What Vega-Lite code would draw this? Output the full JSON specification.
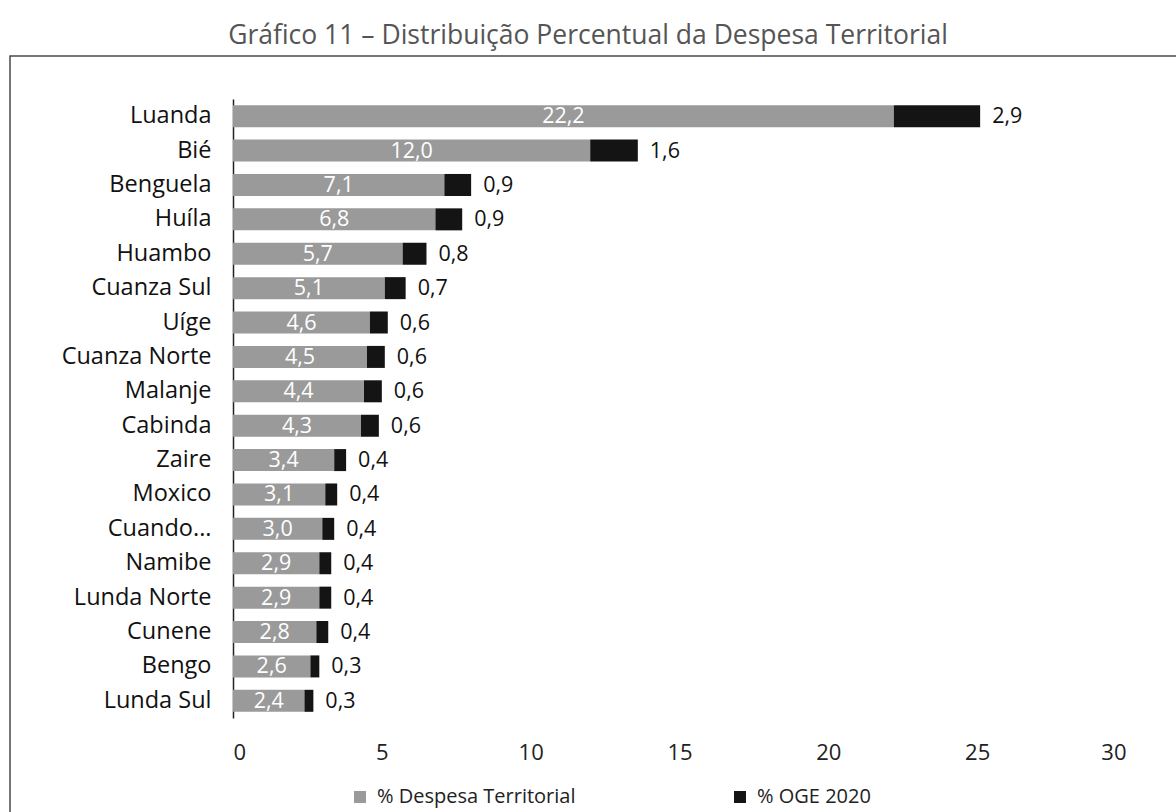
{
  "$schema": "https://vega.github.io/schema/vega-lite/v6.json",
  "autosize": {"type": "none"},
  "width": 1168,
  "height": 758,
  "padding": {"left": 10, "top": 56, "right": -2, "bottom": -2},
  "background": "white",
  "title": {
    "text": "Gráfico 11 – Distribuição Percentual da Despesa Territorial",
    "font": "Open Sans",
    "fontSize": 26.5,
    "fontWeight": "normal",
    "color": "#555555",
    "anchor": "middle",
    "dx": -6,
    "offset": 7
  },
  "data": {
    "values": [
      {"provincia": "Luanda", "serie": "% Despesa Territorial", "valor": 22.2},
      {"provincia": "Luanda", "serie": "% OGE 2020", "valor": 2.9},
      {"provincia": "Bié", "serie": "% Despesa Territorial", "valor": 12.0},
      {"provincia": "Bié", "serie": "% OGE 2020", "valor": 1.6},
      {"provincia": "Benguela", "serie": "% Despesa Territorial", "valor": 7.1},
      {"provincia": "Benguela", "serie": "% OGE 2020", "valor": 0.9},
      {"provincia": "Huíla", "serie": "% Despesa Territorial", "valor": 6.8},
      {"provincia": "Huíla", "serie": "% OGE 2020", "valor": 0.9},
      {"provincia": "Huambo", "serie": "% Despesa Territorial", "valor": 5.7},
      {"provincia": "Huambo", "serie": "% OGE 2020", "valor": 0.8},
      {"provincia": "Cuanza Sul", "serie": "% Despesa Territorial", "valor": 5.1},
      {"provincia": "Cuanza Sul", "serie": "% OGE 2020", "valor": 0.7},
      {"provincia": "Uíge", "serie": "% Despesa Territorial", "valor": 4.6},
      {"provincia": "Uíge", "serie": "% OGE 2020", "valor": 0.6},
      {"provincia": "Cuanza Norte", "serie": "% Despesa Territorial", "valor": 4.5},
      {"provincia": "Cuanza Norte", "serie": "% OGE 2020", "valor": 0.6},
      {"provincia": "Malanje", "serie": "% Despesa Territorial", "valor": 4.4},
      {"provincia": "Malanje", "serie": "% OGE 2020", "valor": 0.6},
      {"provincia": "Cabinda", "serie": "% Despesa Territorial", "valor": 4.3},
      {"provincia": "Cabinda", "serie": "% OGE 2020", "valor": 0.6},
      {"provincia": "Zaire", "serie": "% Despesa Territorial", "valor": 3.4},
      {"provincia": "Zaire", "serie": "% OGE 2020", "valor": 0.4},
      {"provincia": "Moxico", "serie": "% Despesa Territorial", "valor": 3.1},
      {"provincia": "Moxico", "serie": "% OGE 2020", "valor": 0.4},
      {"provincia": "Cuando...", "serie": "% Despesa Territorial", "valor": 3.0},
      {"provincia": "Cuando...", "serie": "% OGE 2020", "valor": 0.4},
      {"provincia": "Namibe", "serie": "% Despesa Territorial", "valor": 2.9},
      {"provincia": "Namibe", "serie": "% OGE 2020", "valor": 0.4},
      {"provincia": "Lunda Norte", "serie": "% Despesa Territorial", "valor": 2.9},
      {"provincia": "Lunda Norte", "serie": "% OGE 2020", "valor": 0.4},
      {"provincia": "Cunene", "serie": "% Despesa Territorial", "valor": 2.8},
      {"provincia": "Cunene", "serie": "% OGE 2020", "valor": 0.4},
      {"provincia": "Bengo", "serie": "% Despesa Territorial", "valor": 2.6},
      {"provincia": "Bengo", "serie": "% OGE 2020", "valor": 0.3},
      {"provincia": "Lunda Sul", "serie": "% Despesa Territorial", "valor": 2.4},
      {"provincia": "Lunda Sul", "serie": "% OGE 2020", "valor": 0.3}
    ]
  },
  "encoding": {
    "y": {
      "field": "provincia",
      "type": "nominal",
      "sort": ["Luanda", "Bié", "Benguela", "Huíla", "Huambo", "Cuanza Sul", "Uíge", "Cuanza Norte", "Malanje", "Cabinda", "Zaire", "Moxico", "Cuando...", "Namibe", "Lunda Norte", "Cunene", "Bengo", "Lunda Sul"],
      "scale": {"range": [43, 662], "paddingInner": 0.36, "paddingOuter": 0.18},
      "axis": {
        "title": null,
        "orient": "left",
        "offset": -223,
        "domain": true,
        "domainColor": "#222222",
        "domainWidth": 1.5,
        "ticks": false,
        "grid": false,
        "labelFont": "Open Sans",
        "labelFontSize": 23.5,
        "labelColor": "#111111",
        "labelPadding": 22,
        "labelLimit": 300
      }
    },
    "x": {
      "field": "valor",
      "type": "quantitative",
      "stack": "zero",
      "scale": {"domain": [0, 30], "range": [223, 1116], "nice": false, "zero": true},
      "axis": {
        "title": null,
        "orient": "bottom",
        "offset": -96,
        "values": [0, 5, 10, 15, 20, 25, 30],
        "format": "d",
        "domain": false,
        "ticks": false,
        "tickSize": 0,
        "grid": false,
        "labelFont": "Open Sans",
        "labelFontSize": 22,
        "labelColor": "#222222",
        "labelPadding": 24
      }
    },
    "order": {"field": "serie", "type": "nominal", "sort": "ascending"}
  },
  "layer": [
    {
      "mark": {"type": "bar"},
      "encoding": {
        "color": {
          "field": "serie",
          "type": "nominal",
          "scale": {"domain": ["% Despesa Territorial", "% OGE 2020"], "range": ["#9a9a9a", "#141414"]},
          "legend": {
            "title": null,
            "orient": "none",
            "legendX": 340,
            "legendY": 731,
            "direction": "horizontal",
            "symbolType": "square",
            "symbolSize": 144,
            "symbolStrokeWidth": 0,
            "labelFont": "Open Sans",
            "labelFontSize": 20,
            "labelColor": "#222222",
            "labelOffset": 7,
            "labelLimit": 400,
            "columnPadding": 154
          }
        }
      }
    },
    {
      "mark": {"type": "text", "color": "white", "font": "Open Sans", "fontSize": 21.5, "align": "center", "baseline": "middle", "dy": 1},
      "encoding": {
        "x": {"field": "valor", "type": "quantitative", "stack": "zero", "bandPosition": 0.5},
        "detail": {"field": "serie", "type": "nominal"},
        "text": {
          "condition": {"test": "datum.serie === '% Despesa Territorial'", "field": "valor", "type": "quantitative", "format": ".1f"},
          "value": ""
        }
      }
    },
    {
      "mark": {"type": "text", "color": "#111111", "font": "Open Sans", "fontSize": 21.5, "align": "left", "baseline": "middle", "dx": 12, "dy": 1},
      "encoding": {
        "x": {"field": "valor", "type": "quantitative", "stack": "zero"},
        "detail": {"field": "serie", "type": "nominal"},
        "text": {
          "condition": {"test": "datum.serie === '% OGE 2020'", "field": "valor", "type": "quantitative", "format": ".1f"},
          "value": ""
        }
      }
    }
  ],
  "config": {
    "locale": {"number": {"decimal": ",", "thousands": ".", "grouping": [3], "currency": ["", " €"]}},
    "view": {"stroke": "#4a4a4a", "strokeWidth": 1.5, "fill": null}
  }
}
